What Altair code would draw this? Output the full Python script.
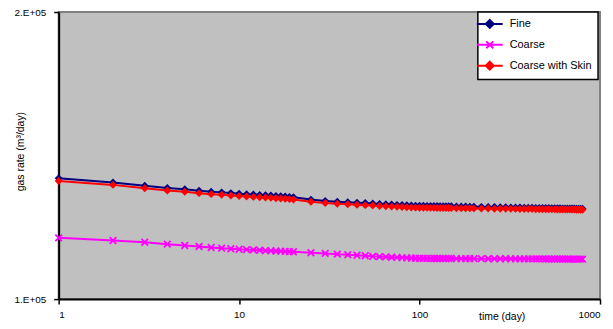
import altair as alt
import pandas as pd

TIME = [1, 2, 3, 4, 5, 6, 7, 8, 9, 10, 11, 12, 13, 14, 15, 16, 17, 18, 19, 20,
        25, 30, 35, 40, 45, 50, 55, 60, 65, 70, 75, 80, 85, 90, 95, 100,
        105, 110, 115, 120, 125, 130, 135, 140, 145, 150,
        160, 170, 180, 190, 200,
        220, 240, 260, 280, 300, 320, 340, 360, 380, 400, 420, 440, 460, 480, 500,
        520, 540, 560, 580, 600, 620, 640, 660, 680, 700, 720, 740, 760, 780, 800]

FINE = [133860, 132550, 131500, 130750, 130350, 129940, 129620, 129400, 129170, 128980,
        128850, 128730, 128600, 128510, 128400, 128300, 128200, 128110, 127970, 127880,
        127160, 126760, 126530, 126380, 126220, 126100, 125980, 125840, 125750, 125660,
        125560, 125500, 125440, 125380, 125320, 125290,
        125270, 125250, 125230, 125210, 125190, 125180, 125160, 125140, 125130, 125110,
        125090, 125060, 125040, 125010, 124990,
        124950, 124910, 124880, 124840, 124810, 124790, 124760, 124740, 124710, 124690,
        124670, 124650, 124630, 124610, 124590, 124580, 124560, 124540, 124530, 124510,
        124500, 124490, 124470, 124460, 124450, 124440, 124420, 124410, 124400, 124390]

COARSE = [115950, 115200, 114730, 114180, 113830, 113560, 113280, 113090, 112930, 112800,
          112690, 112610, 112530, 112440, 112390, 112330, 112280, 112220, 112170, 112120,
          111850, 111660, 111470, 111310, 111180, 111050, 110890, 110810, 110730, 110650,
          110590, 110540, 110480, 110430, 110380, 110330,
          110326, 110321, 110317, 110313, 110310, 110306, 110303, 110299, 110296, 110293,
          110287, 110282, 110276, 110271, 110267,
          110258, 110250, 110243, 110236, 110230, 110224, 110218, 110213, 110208, 110203,
          110199, 110195, 110191, 110187, 110183, 110179, 110176, 110173, 110169, 110166,
          110163, 110160, 110158, 110155, 110152, 110150, 110147, 110145, 110142, 110140]

SKIN = [133030, 131760, 130720, 129970, 129570, 129160, 128850, 128640, 128420, 128240,
        128120, 128000, 127880, 127790, 127700, 127600, 127510, 127420, 127300, 127210,
        126500, 126100, 125890, 125740, 125590, 125470, 125350, 125230, 125140, 125050,
        124960, 124900, 124840, 124780, 124720, 124690,
        124680, 124660, 124650, 124640, 124630, 124610, 124600, 124590, 124580, 124570,
        124550, 124540, 124520, 124510, 124490,
        124460, 124440, 124410, 124390, 124370, 124350, 124340, 124320, 124310, 124290,
        124280, 124260, 124250, 124240, 124230, 124210, 124200, 124190, 124180, 124170,
        124160, 124150, 124150, 124140, 124130, 124120, 124110, 124110, 124100, 124090]

SERIES = ["Fine", "Coarse", "Coarse with Skin"]
COLORS = ["#000080", "#FF00FF", "#FF0000"]
X_TICKS = [1, 10, 100, 1000]
Y_TICKS = [100000, 200000]

rows = []
for name, vals in zip(SERIES, [FINE, COARSE, SKIN]):
    for t, v in zip(TIME, vals):
        rows.append({"series": name, "time": t, "rate": v})
df = pd.DataFrame(rows)

FONT = "Liberation Sans"
LINE_DIAMOND = "M-2.6,0L2.6,0M0,-0.8L0.8,0L0,0.8L-0.8,0Z"
LINE_X = "M-2.6,0L2.6,0M-0.7,-0.7L0.7,0.7M-0.7,0.7L0.7,-0.7"

legend = alt.Legend(
    title=None, orient="none", legendX=422, legendY=0,
    fillColor="white", strokeColor="black", padding=6,
    symbolType=alt.ExprRef(expr="datum.value === 'Coarse' ? '" + LINE_X + "' : '" + LINE_DIAMOND + "'"),
    symbolFillColor=alt.ExprRef(expr="scale('color', datum.value)"),
    symbolSize=100, symbolStrokeWidth=2, symbolOpacity=1,
    labelFont=FONT, labelFontSize=11, labelColor="black", labelOffset=14,
    labelLimit=200, rowPadding=5,
)

color = alt.Color("series:N", scale=alt.Scale(domain=SERIES, range=COLORS), legend=legend,
                  sort=SERIES)

x = alt.X("time:Q",
          scale=alt.Scale(type="log", domain=[1, 1000], nice=False),
          axis=alt.Axis(values=X_TICKS, format="d", title="time (day)",
                        titleX=446, titleY=18, titleAlign="center", titleBaseline="middle",
                        titleFontSize=10.5))
y = alt.Y("rate:Q",
          scale=alt.Scale(type="log", domain=[100000, 200000], nice=False),
          axis=alt.Axis(values=Y_TICKS,
                        labelExpr="datum.value >= 150000 ? '2.E+05' : '1.E+05'",
                        title="gas rate (m³/day)", titleX=-38, titleY=140,
                        titleBaseline="middle", titleFontSize=10.5, labelPadding=8))

base = alt.Chart(df)
lines = base.mark_line(strokeWidth=2).encode(x=x, y=y, color=color, detail="series:N")
diamonds = base.transform_filter("datum.series !== 'Coarse'").mark_point(
    shape="diamond", filled=True, size=64, opacity=1).encode(x=x, y=y, color=color)
crosses = base.transform_filter("datum.series === 'Coarse'").mark_point(
    shape="M-1,-1L1,1M-1,1L1,-1", filled=False, size=44, strokeWidth=1.8, opacity=1
).encode(x=x, y=y, color=color)

chart = alt.layer(lines, diamonds, crosses).properties(
    width=545, height=289,
    autosize=alt.AutoSizeParams(type="none"),
    padding={"left": 51, "top": 3, "right": 5, "bottom": 27},
).configure_view(
    fill="#C0C0C0", stroke="#808080", strokeWidth=2
).configure_axis(
    grid=False, domainColor="black", domainWidth=2, tickColor="black", tickWidth=1.5,
    tickSize=5, labelFont=FONT, labelFontSize=10, labelColor="black",
    titleFont=FONT, titleFontSize=10, titleFontWeight="normal", titleColor="black",
    labelPadding=6, zindex=1,
).configure_legend(strokeWidth=1.5)

chart.save("out.html", embed_options={"renderer": "svg", "actions": False})
